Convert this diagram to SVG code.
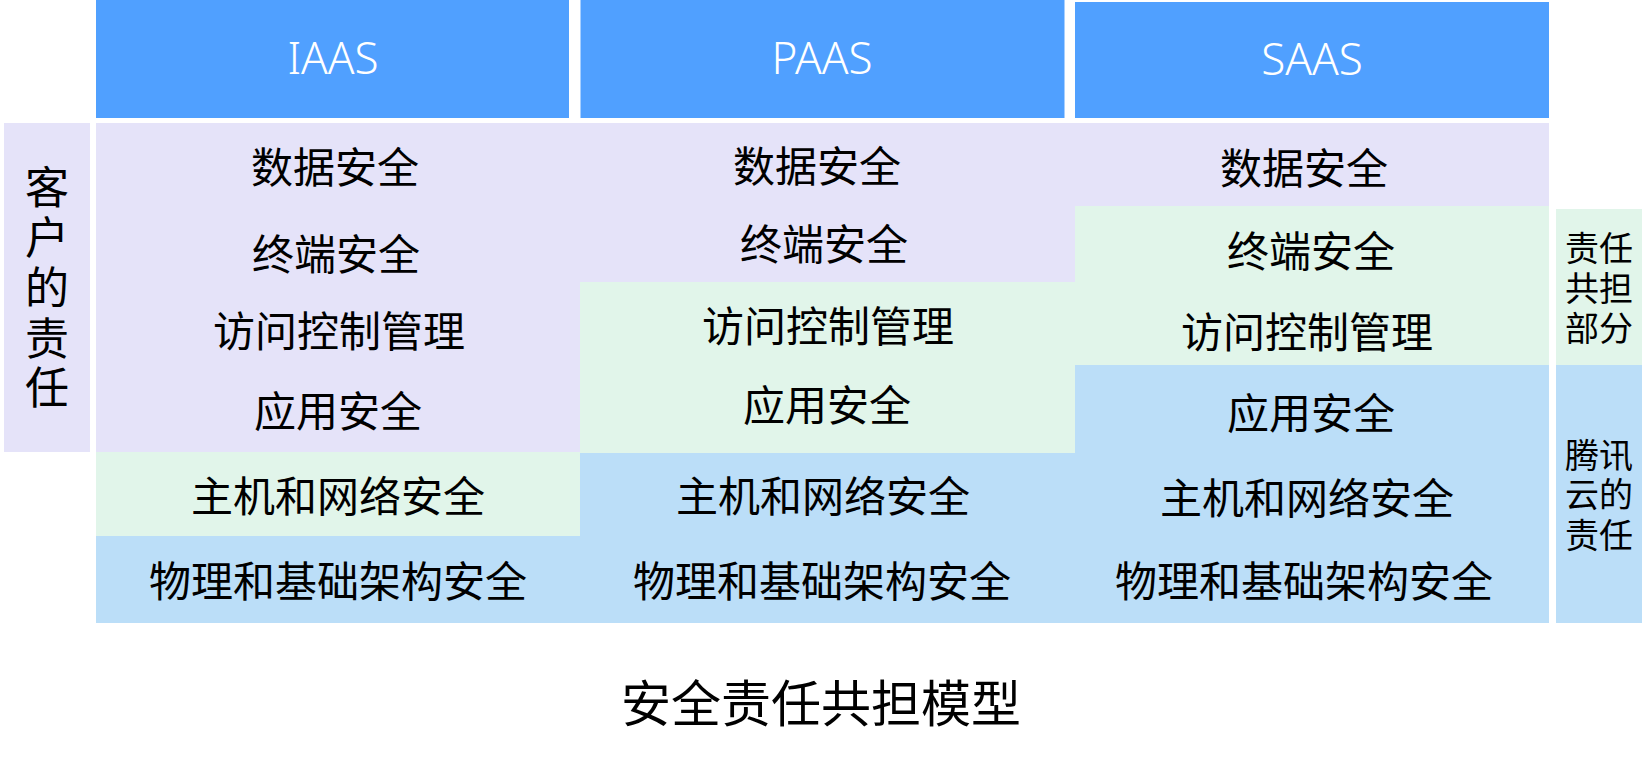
<svg xmlns="http://www.w3.org/2000/svg" width="1652" height="763" viewBox="0 0 1652 763">
<style>
.hdr{fill:#50A0FF}
.lav{fill:#E5E3F9}
.grn{fill:#E1F5EA}
.blu{fill:#BBDEF8}
.ht{font-family:"Noto Sans","Noto Sans CJK SC",sans-serif;font-weight:300;font-size:44px;fill:#FFFFFF;text-anchor:middle}
.ct{font-family:"Noto Sans CJK SC","Noto Sans",sans-serif;font-size:42px;fill:#000000;text-anchor:middle}
.vl{font-family:"Noto Sans CJK SC","Noto Sans",sans-serif;font-size:44px;fill:#000000;text-anchor:middle}
.rl{font-family:"Noto Sans CJK SC","Noto Sans",sans-serif;font-size:34px;fill:#000000;text-anchor:middle}
.tt{font-family:"Noto Sans CJK SC","Noto Sans",sans-serif;font-size:50px;fill:#000000;text-anchor:middle}
</style>
<rect width="1652" height="763" fill="#FFFFFF"/>
<g id="connectors"></g>
<g id="header-iaas"><rect class="hdr" x="96" y="0" width="473" height="118"/><text class="ht" x="333" y="74">IAAS</text></g>
<g id="header-paas"><rect class="hdr" x="580.5" y="0" width="484" height="118"/><text class="ht" x="822" y="74">PAAS</text></g>
<g id="header-saas"><rect class="hdr" x="1075" y="2" width="474" height="116"/><text class="ht" x="1312" y="75">SAAS</text></g>
<g id="label-customer"><rect class="lav" x="4" y="123" width="86" height="329"/>
<text class="vl" x="47" y="204">客</text><text class="vl" x="47" y="254">户</text><text class="vl" x="47" y="304">的</text><text class="vl" x="47" y="355">责</text><text class="vl" x="47" y="404">任</text></g>
<g id="col-iaas">
<rect class="lav" x="96" y="123" width="484.5" height="329"/>
<rect class="grn" x="96" y="452" width="484.5" height="84"/>
<rect class="blu" x="96" y="536" width="484.5" height="87"/>
<text class="ct" x="335" y="183">数据安全</text>
<text class="ct" x="336" y="270">终端安全</text>
<text class="ct" x="339" y="347">访问控制管理</text>
<text class="ct" x="338" y="427">应用安全</text>
<text class="ct" x="338" y="512">主机和网络安全</text>
<text class="ct" x="338" y="597">物理和基础架构安全</text>
</g>
<g id="col-paas">
<rect class="lav" x="580" y="123" width="495.5" height="159"/>
<rect class="grn" x="580" y="282" width="495.5" height="171"/>
<rect class="blu" x="580" y="453" width="495.5" height="170"/>
<text class="ct" x="817" y="182">数据安全</text>
<text class="ct" x="824" y="260">终端安全</text>
<text class="ct" x="828" y="342">访问控制管理</text>
<text class="ct" x="827" y="421">应用安全</text>
<text class="ct" x="823" y="512">主机和网络安全</text>
<text class="ct" x="822" y="597">物理和基础架构安全</text>
</g>
<g id="col-saas">
<rect class="lav" x="1075" y="123" width="474" height="83"/>
<rect class="grn" x="1075" y="206" width="474" height="159"/>
<rect class="blu" x="1075" y="365" width="474" height="258"/>
<text class="ct" x="1304" y="184">数据安全</text>
<text class="ct" x="1311" y="267">终端安全</text>
<text class="ct" x="1307" y="348">访问控制管理</text>
<text class="ct" x="1311" y="429">应用安全</text>
<text class="ct" x="1307" y="514">主机和网络安全</text>
<text class="ct" x="1304" y="597">物理和基础架构安全</text>
</g>
<g id="label-shared"><rect class="grn" x="1556" y="209" width="86" height="156"/>
<text class="rl" x="1599" y="261">责任</text><text class="rl" x="1599" y="301">共担</text><text class="rl" x="1599" y="341">部分</text></g>
<g id="label-tencent"><rect class="blu" x="1556" y="365" width="86" height="258"/>
<text class="rl" x="1599" y="468">腾讯</text><text class="rl" x="1599" y="507">云的</text><text class="rl" x="1599" y="548">责任</text></g>
<g id="title"><text class="tt" x="821" y="722">安全责任共担模型</text></g>
</svg>
